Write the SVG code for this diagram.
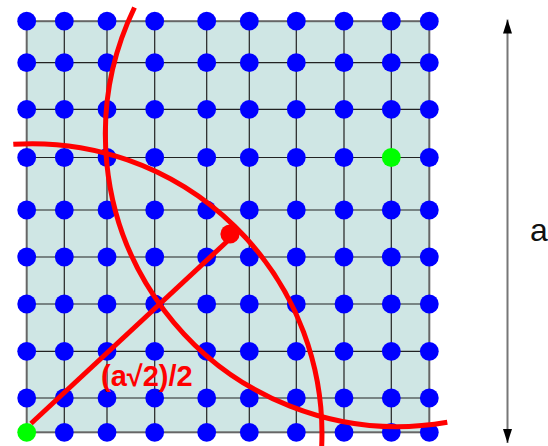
<svg xmlns="http://www.w3.org/2000/svg" width="548" height="446" viewBox="0 0 548 446">
  <defs>
    <style>
      .cell { fill: #cfe6e4; stroke: none; }
      .gl { stroke: #222; stroke-width: 1.2; fill: none; }
      .border { fill: none; stroke: #666; stroke-width: 2; }
      .dot { fill: #0000ff; }
      .green { fill: #00ff00; }
      .red { fill: none; stroke: #ff0000; stroke-width: 5; }
      .reddot { fill: #ff0000; }
      .lbl { font-family: "Liberation Sans", Arial, sans-serif; font-weight: bold; font-size: 29px; fill: #ff0000; }
      .dim { stroke: #777; stroke-width: 2; fill: none; }
      .dimtxt { font-family: "Liberation Sans", Arial, sans-serif; font-size: 32px; fill: #111; }
    </style>
    <marker id="ah" viewBox="0 0 14 9" refX="14" refY="4.5" markerWidth="14" markerHeight="9" markerUnits="userSpaceOnUse" orient="auto-start-reverse">
      <path d="M0,0 L14,4.5 L0,9 z" fill="#000"/>
    </marker>
    <circle id="d" r="9.4"/>
  </defs>

  <g id="lattice">
    <rect class="cell" x="26.7" y="21.2" width="402.6" height="411.1"/>
    <path class="gl" d="M64.3,21.2V432.3 M107,21.2V432.3 M154.7,21.2V432.3 M206.7,21.2V432.3 M249.3,21.2V432.3 M296.3,21.2V432.3 M344,21.2V432.3 M391.3,21.2V432.3
      M26.7,62.7H429.3 M26.7,109.3H429.3 M26.7,157.5H429.3 M26.7,210H429.3 M26.7,257H429.3 M26.7,304H429.3 M26.7,351.3H429.3 M26.7,398H429.3"/>
    <rect class="border" x="26.7" y="21.2" width="402.6" height="411.1"/>
  </g>

  <g id="atoms" class="dot">
    <g id="row1">
      <use href="#d" x="26.7" y="21.2"/><use href="#d" x="64.3" y="21.2"/><use href="#d" x="107" y="21.2"/><use href="#d" x="154.7" y="21.2"/><use href="#d" x="206.7" y="21.2"/><use href="#d" x="249.3" y="21.2"/><use href="#d" x="296.3" y="21.2"/><use href="#d" x="344" y="21.2"/><use href="#d" x="391.3" y="21.2"/><use href="#d" x="429.3" y="21.2"/>
    </g>
    <g id="row2">
      <use href="#d" x="26.7" y="62.7"/><use href="#d" x="64.3" y="62.7"/><use href="#d" x="107" y="62.7"/><use href="#d" x="154.7" y="62.7"/><use href="#d" x="206.7" y="62.7"/><use href="#d" x="249.3" y="62.7"/><use href="#d" x="296.3" y="62.7"/><use href="#d" x="344" y="62.7"/><use href="#d" x="391.3" y="62.7"/><use href="#d" x="429.3" y="62.7"/>
    </g>
    <g id="row3">
      <use href="#d" x="26.7" y="109.3"/><use href="#d" x="64.3" y="109.3"/><use href="#d" x="107" y="109.3"/><use href="#d" x="154.7" y="109.3"/><use href="#d" x="206.7" y="109.3"/><use href="#d" x="249.3" y="109.3"/><use href="#d" x="296.3" y="109.3"/><use href="#d" x="344" y="109.3"/><use href="#d" x="391.3" y="109.3"/><use href="#d" x="429.3" y="109.3"/>
    </g>
    <g id="row4">
      <use href="#d" x="26.7" y="157.5"/><use href="#d" x="64.3" y="157.5"/><use href="#d" x="107" y="157.5"/><use href="#d" x="154.7" y="157.5"/><use href="#d" x="206.7" y="157.5"/><use href="#d" x="249.3" y="157.5"/><use href="#d" x="296.3" y="157.5"/><use href="#d" x="344" y="157.5"/><use href="#d" x="429.3" y="157.5"/>
    </g>
    <g id="row5">
      <use href="#d" x="26.7" y="210"/><use href="#d" x="64.3" y="210"/><use href="#d" x="107" y="210"/><use href="#d" x="154.7" y="210"/><use href="#d" x="206.7" y="210"/><use href="#d" x="249.3" y="210"/><use href="#d" x="296.3" y="210"/><use href="#d" x="344" y="210"/><use href="#d" x="391.3" y="210"/><use href="#d" x="429.3" y="210"/>
    </g>
    <g id="row6">
      <use href="#d" x="26.7" y="257"/><use href="#d" x="64.3" y="257"/><use href="#d" x="107" y="257"/><use href="#d" x="154.7" y="257"/><use href="#d" x="206.7" y="257"/><use href="#d" x="249.3" y="257"/><use href="#d" x="296.3" y="257"/><use href="#d" x="344" y="257"/><use href="#d" x="391.3" y="257"/><use href="#d" x="429.3" y="257"/>
    </g>
    <g id="row7">
      <use href="#d" x="26.7" y="304"/><use href="#d" x="64.3" y="304"/><use href="#d" x="107" y="304"/><use href="#d" x="154.7" y="304"/><use href="#d" x="206.7" y="304"/><use href="#d" x="249.3" y="304"/><use href="#d" x="296.3" y="304"/><use href="#d" x="344" y="304"/><use href="#d" x="391.3" y="304"/><use href="#d" x="429.3" y="304"/>
    </g>
    <g id="row8">
      <use href="#d" x="26.7" y="351.3"/><use href="#d" x="64.3" y="351.3"/><use href="#d" x="107" y="351.3"/><use href="#d" x="154.7" y="351.3"/><use href="#d" x="206.7" y="351.3"/><use href="#d" x="249.3" y="351.3"/><use href="#d" x="296.3" y="351.3"/><use href="#d" x="344" y="351.3"/><use href="#d" x="391.3" y="351.3"/><use href="#d" x="429.3" y="351.3"/>
    </g>
    <g id="row9">
      <use href="#d" x="26.7" y="398"/><use href="#d" x="64.3" y="398"/><use href="#d" x="107" y="398"/><use href="#d" x="154.7" y="398"/><use href="#d" x="206.7" y="398"/><use href="#d" x="249.3" y="398"/><use href="#d" x="296.3" y="398"/><use href="#d" x="344" y="398"/><use href="#d" x="391.3" y="398"/><use href="#d" x="429.3" y="398"/>
    </g>
    <g id="row10">
      <use href="#d" x="64.3" y="432.3"/><use href="#d" x="107" y="432.3"/><use href="#d" x="154.7" y="432.3"/><use href="#d" x="206.7" y="432.3"/><use href="#d" x="249.3" y="432.3"/><use href="#d" x="296.3" y="432.3"/><use href="#d" x="344" y="432.3"/><use href="#d" x="391.3" y="432.3"/><use href="#d" x="429.3" y="432.3"/>
    </g>
  </g>

  <g id="arcs">
    <path id="arcA" class="red" d="M134.5,7.5 A292,292 0 0 0 447.3,422.3"/>
    <path id="arcB" class="red" d="M13.3,144.3 A290,290 0 0 1 321.7,446"/>
  </g>

  <g id="connectors">
    <path id="radius" class="red" d="M31,423.5 L227,241.5"/>
    <path id="dimension" class="dim" d="M507.5,19.5 V443" marker-start="url(#ah)" marker-end="url(#ah)"/>
  </g>

  <g id="greenA"><circle class="green" cx="391.3" cy="157.5" r="9.4"/></g>
  <g id="greenB"><circle class="green" cx="26.7" cy="432.3" r="9.4"/></g>
  <g id="redPoint"><circle class="reddot" cx="230" cy="234" r="9.6"/></g>

  <g id="labels">
    <text class="lbl" x="101" y="386">(a√2)/2</text>
    <text class="dimtxt" x="530" y="241">a</text>
  </g>
</svg>
